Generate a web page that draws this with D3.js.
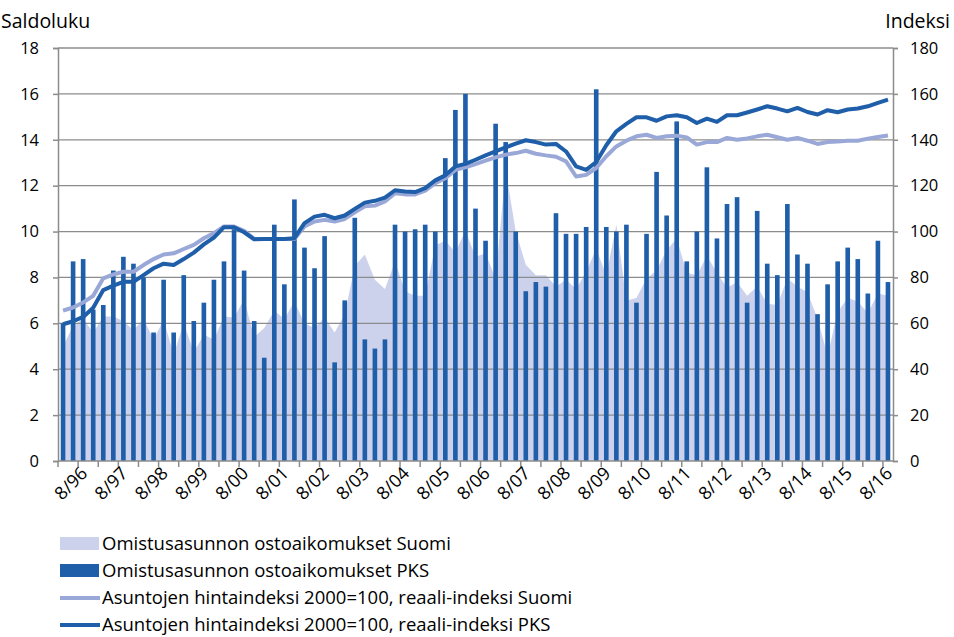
<!DOCTYPE html>
<head>
    <meta charset="utf-8">
    <script src="https://d3js.org/d3.v7.min.js"></script>
    <style>
        body { margin: 0; background: #fff; }
        text { font-family: "Open Sans", sans-serif; fill: #000; }
    </style>
</head>
<body>
    <svg></svg>
</body>

<script>
    // Quarterly categories 2/96 ... 8/16
    var categories = [];
    for (var yr = 1996; yr <= 2016; yr++) {
        [2, 5, 8, 11].forEach(function (m) {
            if (yr === 2016 && m === 11) return;
            categories.push(m + '/' + String(yr).slice(2));
        });
    }

    var tickLabels = ['8/96', '8/97', '8/98', '8/99', '8/00', '8/01', '8/02', '8/03', '8/04', '8/05',
        '8/06', '8/07', '8/08', '8/09', '8/10', '8/11', '8/12', '8/13', '8/14', '8/15', '8/16'];

    var leftTicks = [0, 2, 4, 6, 8, 10, 12, 14, 16, 18];
    var rightTicks = [0, 20, 40, 60, 80, 100, 120, 140, 160, 180];

    // Omistusasunnon ostoaikomukset Suomi (area, saldoluku)
    var ostoSuomi = [5.0, 5.9, 6.2, 5.6, 6.3, 6.3, 6.1, 5.7, 6.2, 5.3,
        6.15, 4.65, 6.0, 4.75, 5.5, 5.3, 6.3, 6.25, 7.05, 5.4,
        5.8, 6.55, 6.2, 6.95, 6.0, 5.8, 6.25, 5.6, 6.4, 8.5,
        9.0, 7.9, 7.5, 8.7, 7.4, 7.2, 7.2, 9.4, 9.6, 9.1,
        10.05, 8.9, 9.05, 7.95, 12.7, 10.0, 8.55, 8.1, 8.1, 7.6,
        7.9, 7.5, 8.25, 9.25, 8.1, 10.3, 7.0, 7.1, 7.95, 8.3,
        9.2, 9.7, 8.2, 8.1, 8.95, 8.2, 7.55, 7.8, 7.2, 7.6,
        6.85, 6.8, 7.95, 7.6, 7.35, 6.2, 4.6, 6.5, 7.1, 6.95,
        6.45, 7.3, 7.2];

    // Omistusasunnon ostoaikomukset PKS (columns, saldoluku)
    var ostoPKS = [6.0, 8.7, 8.8, 6.6, 6.8, 8.3, 8.9, 8.6, 8.0, 5.6,
        7.9, 5.6, 8.1, 6.1, 6.9, 7.9, 8.7, 10.1, 8.3, 6.1,
        4.5, 10.3, 7.7, 11.4, 9.3, 8.4, 9.8, 4.3, 7.0, 10.6,
        5.3, 4.9, 5.3, 10.3, 10.0, 10.1, 10.3, 10.0, 13.2, 15.3,
        16.0, 11.0, 9.6, 14.7, 13.9, 10.0, 7.4, 7.8, 7.6, 10.8,
        9.9, 9.9, 10.2, 16.2, 10.2, 10.0, 10.3, 6.9, 9.9, 12.6,
        10.7, 14.8, 8.7, 10.0, 12.8, 9.7, 11.2, 11.5, 6.9, 10.9,
        8.6, 8.1, 11.2, 9.0, 8.6, 6.4, 7.7, 8.7, 9.3, 8.8,
        7.3, 9.6, 7.8];

    // Asuntojen hintaindeksi 2000=100, reaali-indeksi Suomi (indeksi)
    var indeksiSuomi = [65.5, 66.9, 69.1, 72.0, 79.6, 81.3, 82.5, 82.5, 85.4, 88.0,
        90.0, 90.5, 92.4, 94.2, 97.1, 99.3, 102.2, 102.2, 100.3, 96.8,
        96.8, 96.8, 96.8, 96.8, 102.2, 104.4, 105.1, 104.4, 105.5, 108.4,
        111.0, 111.3, 113.1, 116.7, 116.2, 116.2, 117.8, 121.1, 123.3, 126.9,
        128.0, 129.4, 130.9, 132.3, 133.5, 134.2, 135.2, 133.9, 133.2, 132.6,
        130.6, 124.0, 124.7, 127.7, 132.8, 137.1, 139.6, 141.5, 142.2, 140.8,
        141.5, 141.8, 141.0, 137.9, 139.0, 139.0, 140.8, 140.0, 140.6, 141.5,
        142.2, 141.1, 140.0, 140.8, 139.6, 138.2, 139.0, 139.3, 139.6, 139.6,
        140.5, 141.2, 141.9];

    // Asuntojen hintaindeksi 2000=100, reaali-indeksi PKS (indeksi)
    var indeksiPKS = [59.6, 60.9, 62.8, 66.8, 74.5, 76.4, 78.1, 78.1, 81.0, 84.0,
        86.0, 85.4, 88.0, 90.8, 94.4, 97.4, 101.9, 101.9, 99.7, 96.6,
        96.8, 96.8, 96.8, 97.1, 103.7, 106.5, 107.3, 105.8, 107.0, 109.9,
        112.6, 113.4, 114.8, 118.0, 117.5, 117.2, 118.9, 122.3, 124.5, 128.4,
        129.5, 131.3, 133.2, 134.9, 136.7, 138.3, 139.8, 139.0, 137.9, 138.2,
        134.9, 128.4, 126.9, 130.3, 137.6, 143.7, 146.9, 149.8, 149.8, 148.3,
        150.2, 150.7, 149.8, 147.3, 149.2, 147.8, 150.7, 150.7, 151.9, 153.2,
        154.6, 153.6, 152.4, 153.9, 152.1, 151.0, 152.9, 152.0, 153.2, 153.6,
        154.6, 156.1, 157.5];

    var legendItems = [
        { name: 'Omistusasunnon ostoaikomukset Suomi', type: 'area' },
        { name: 'Omistusasunnon ostoaikomukset PKS', type: 'bar' },
        { name: 'Asuntojen hintaindeksi 2000=100, reaali-indeksi Suomi', type: 'lineLight' },
        { name: 'Asuntojen hintaindeksi 2000=100, reaali-indeksi PKS', type: 'lineDark' }
    ];

    // Variables
    var width = 954, height = 637;
    var plotLeft = 58, plotRight = 893, plotTop = 48, plotBottom = 461;
    var darkBlue = '#1f5ea9', lightLine = '#9aa8d8', areaFill = '#cdd2ec', gridColor = '#8c8c8c';

    var svg = d3.select('svg')
        .attr('width', width)
        .attr('height', height);

    var x = d3.scaleBand()
        .domain(categories)
        .range([plotLeft, plotRight]);
    var cx = function (c) { return x(c) + x.bandwidth() / 2; };

    var y = d3.scaleLinear().domain([0, 18]).range([plotBottom, plotTop]);
    var y2 = d3.scaleLinear().domain([0, 180]).range([plotBottom, plotTop]);

    // Area (Suomi)
    var area = d3.area()
        .x(function (d, i) { return cx(categories[i]); })
        .y0(plotBottom)
        .y1(function (d) { return y(d); });

    svg.append('path')
        .datum(ostoSuomi)
        .attr('d', area)
        .style('fill', areaFill);

    // Gridlines
    svg.append('g')
        .selectAll('line')
        .data(leftTicks.slice(1))
        .enter().append('line')
        .attr('x1', plotLeft).attr('x2', plotRight)
        .attr('y1', function (d) { return y(d); })
        .attr('y2', function (d) { return y(d); })
        .style('stroke', gridColor)
        .style('stroke-width', 1.3);

    // Columns (PKS)
    var barW = x.bandwidth() * 0.46;
    svg.append('g')
        .selectAll('rect')
        .data(ostoPKS)
        .enter().append('rect')
        .attr('x', function (d, i) { return cx(categories[i]) - barW / 2; })
        .attr('y', function (d) { return y(d); })
        .attr('width', barW)
        .attr('height', function (d) { return plotBottom - y(d); })
        .style('fill', darkBlue);

    // Index lines
    var line = d3.line()
        .x(function (d, i) { return cx(categories[i]); })
        .y(function (d) { return y2(d); });

    svg.append('path')
        .datum(indeksiSuomi)
        .attr('d', line)
        .style('fill', 'none')
        .style('stroke', lightLine)
        .style('stroke-width', 4)
        .style('stroke-linejoin', 'round');

    svg.append('path')
        .datum(indeksiPKS)
        .attr('d', line)
        .style('fill', 'none')
        .style('stroke', darkBlue)
        .style('stroke-width', 4)
        .style('stroke-linejoin', 'round');

    // Axes
    var axisLeft = d3.axisLeft(y).tickValues(leftTicks).tickSize(5).tickPadding(14);
    var gl = svg.append('g').attr('transform', 'translate(' + plotLeft + ',0)').call(axisLeft);
    var axisRight = d3.axisRight(y2).tickValues(rightTicks).tickSize(5).tickPadding(12);
    var gr = svg.append('g').attr('transform', 'translate(' + plotRight + ',0)').call(axisRight);

    // bottom axis: ticks every 2 quarters at category boundaries
    var boundaries = categories.filter(function (c, i) { return i % 2 === 0; });
    var gb = svg.append('g');
    gb.append('line')
        .attr('x1', plotLeft).attr('x2', plotRight)
        .attr('y1', plotBottom).attr('y2', plotBottom);
    gb.selectAll('.tick')
        .data(boundaries)
        .enter().append('line')
        .attr('x1', function (c) { return x(c); })
        .attr('x2', function (c) { return x(c); })
        .attr('y1', plotBottom).attr('y2', plotBottom + 6);
    gb.selectAll('line').style('stroke', gridColor).style('stroke-width', 1.5);

    [gl, gr].forEach(function (g) {
        g.select('.domain').style('stroke', gridColor).style('stroke-width', 1.5);
        g.selectAll('.tick line').style('stroke', gridColor).style('stroke-width', 1.5);
        g.selectAll('.tick text').style('font-size', '16.5px').style('font-family', '"Open Sans", sans-serif').style('fill', '#000');
    });

    gb.selectAll('.xlabel')
        .data(tickLabels)
        .enter().append('text')
        .attr('transform', function (t) { return 'translate(' + (cx(t) + 1) + ',' + (plotBottom + 9) + ') rotate(-45)'; })
        .attr('text-anchor', 'end')
        .attr('dy', '0.35em')
        .style('font-size', '18px')
        .text(function (t) { return t; });

    // Axis titles
    svg.append('text').attr('x', 1).attr('y', 28).style('font-size', '19.5px').text('Saldoluku');
    svg.append('text').attr('x', 950).attr('y', 28).attr('text-anchor', 'end').style('font-size', '19.5px').text('Indeksi');

    // Legend
    var lg = svg.append('g')
        .selectAll('g')
        .data(legendItems)
        .enter().append('g')
        .attr('transform', function (d, i) { return 'translate(60,' + (544 + i * 27) + ')'; });

    lg.filter(function (d) { return d.type === 'area' || d.type === 'bar'; })
        .append('rect')
        .attr('x', 0).attr('y', -7).attr('width', 39).attr('height', 13)
        .style('fill', function (d) { return d.type === 'area' ? areaFill : darkBlue; });

    lg.filter(function (d) { return d.type === 'lineLight' || d.type === 'lineDark'; })
        .append('line')
        .attr('x1', 0).attr('x2', 40).attr('y1', 0).attr('y2', 0)
        .style('stroke', function (d) { return d.type === 'lineLight' ? lightLine : darkBlue; })
        .style('stroke-width', 4);

    lg.append('text')
        .attr('x', 42)
        .attr('dy', '0.35em')
        .style('font-size', '18.5px')
        .text(function (d) { return d.name; });
</script>
